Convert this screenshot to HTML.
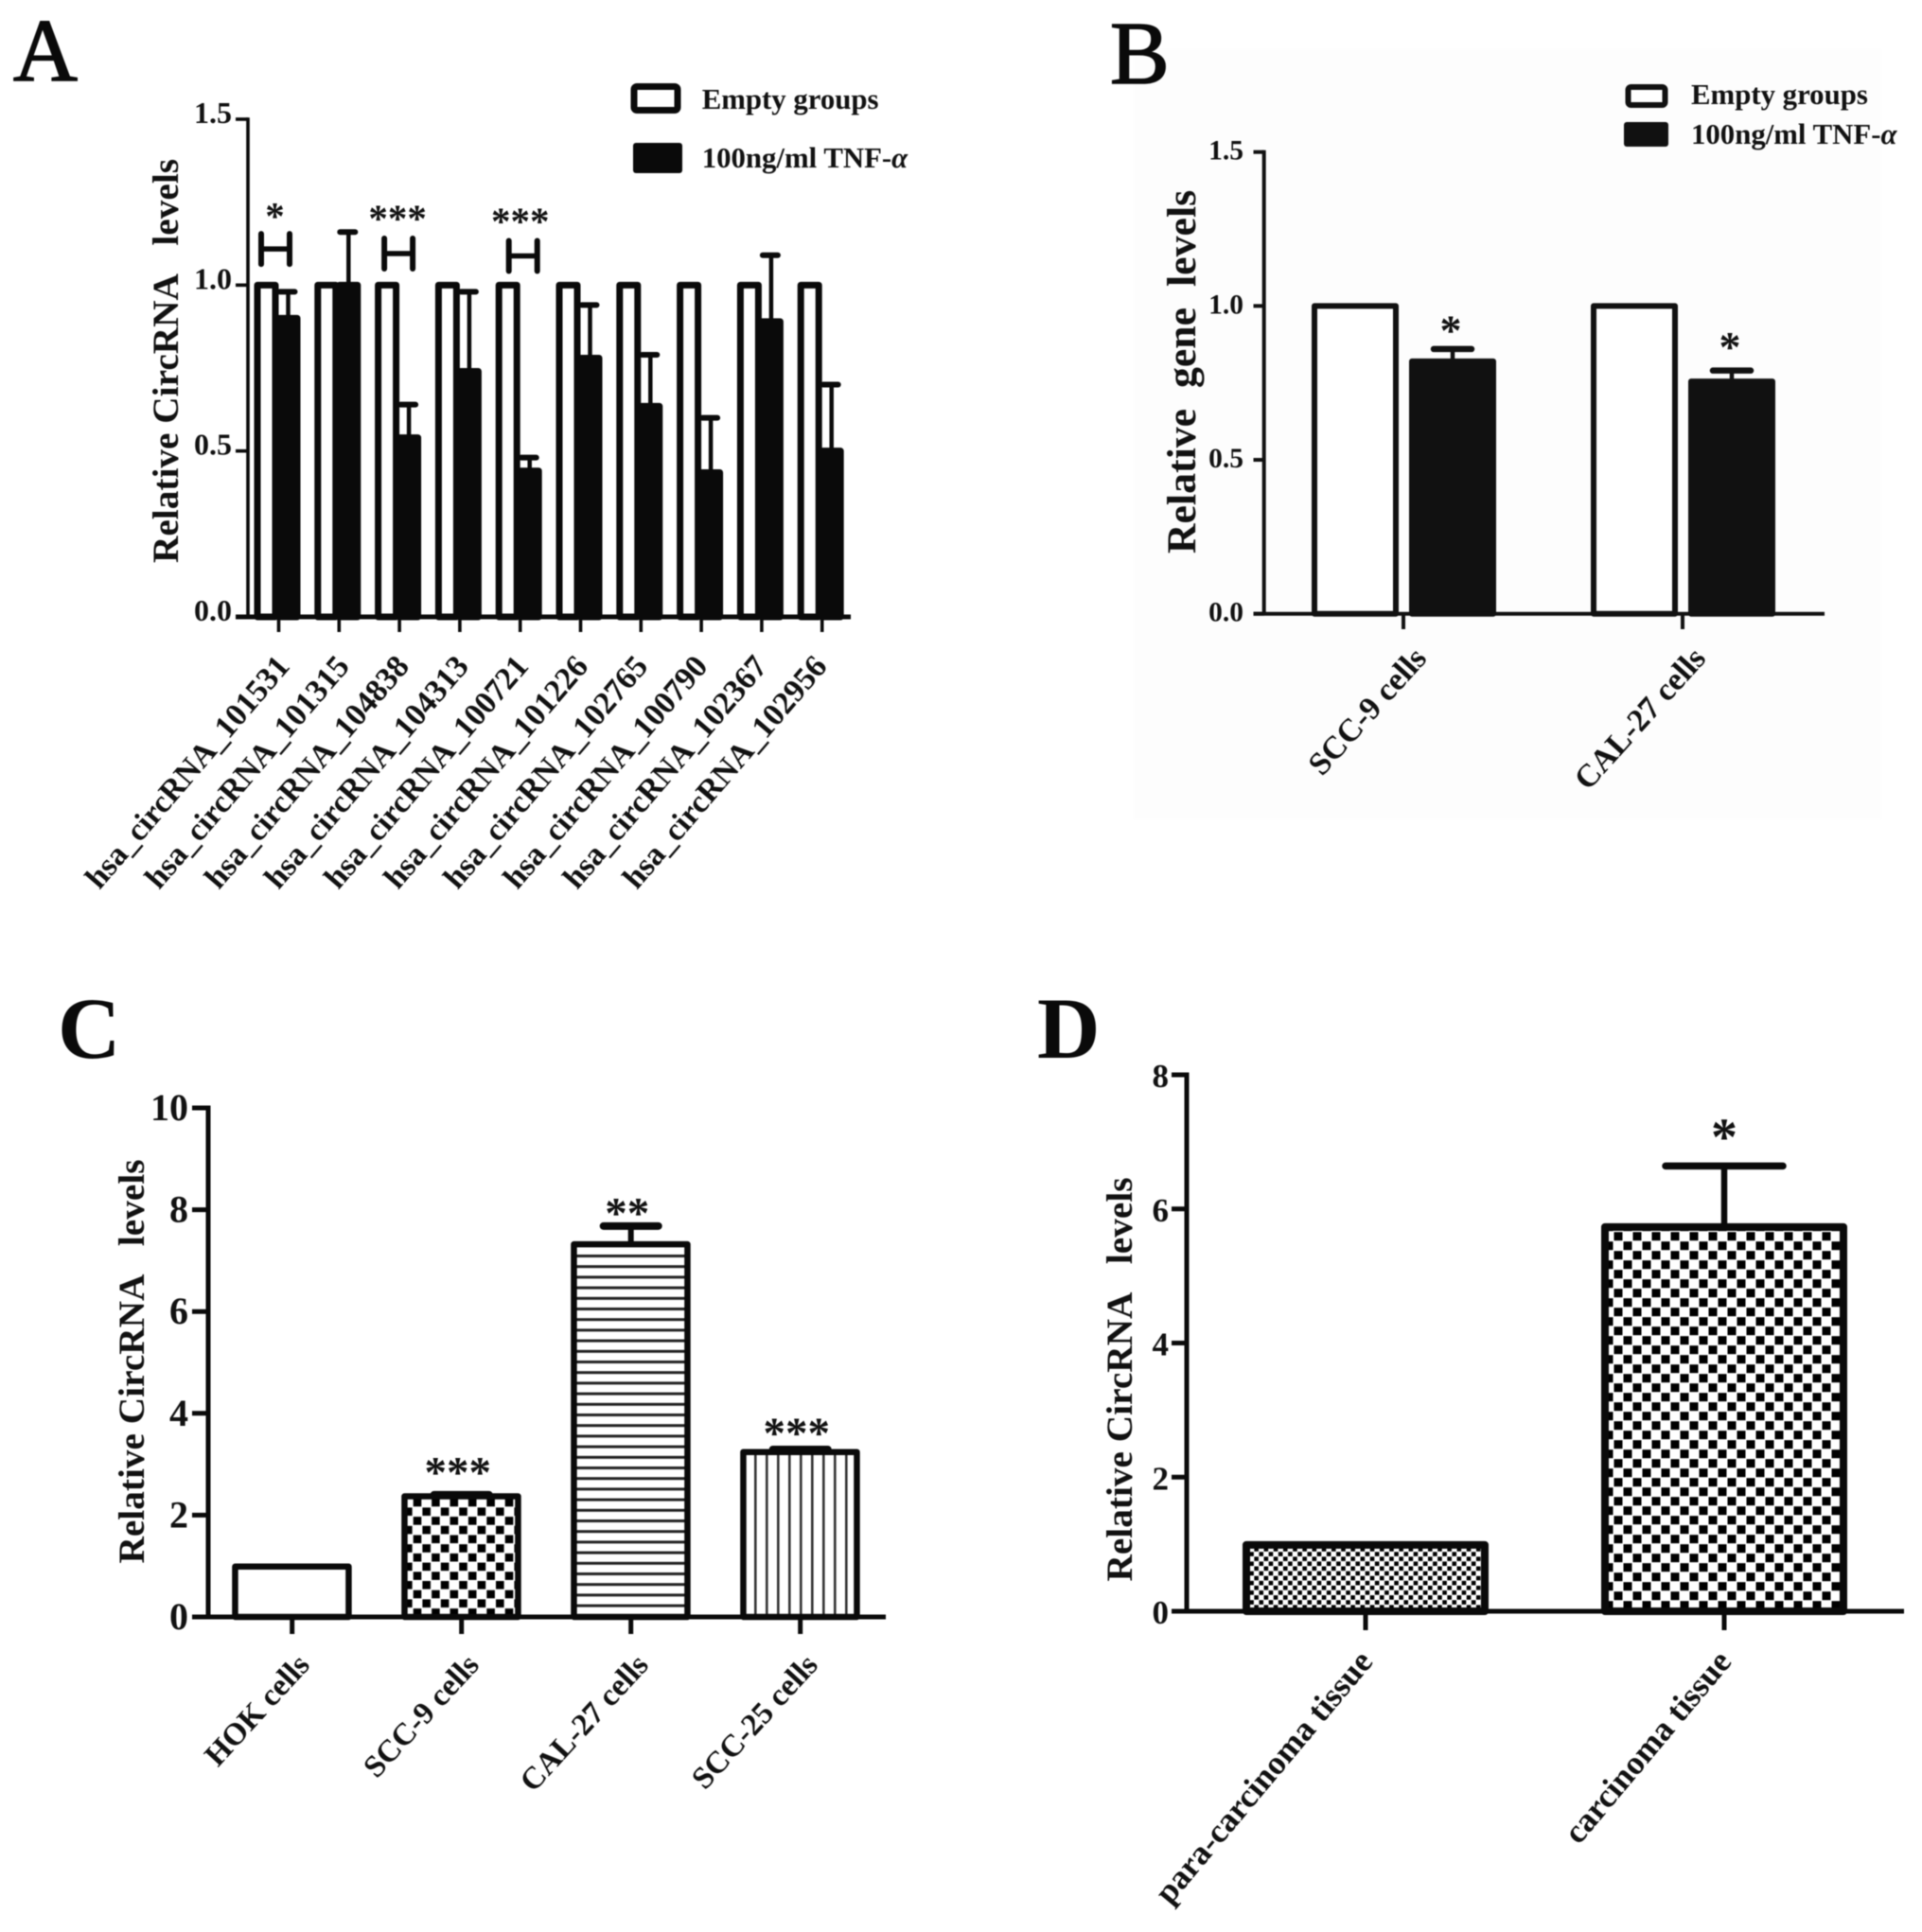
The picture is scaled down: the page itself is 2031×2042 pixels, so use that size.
<!DOCTYPE html>
<html lang="en">
<head>
<meta charset="utf-8">
<title>CircRNA and gene levels, panels A to D</title>
<style>
html,body{margin:0;padding:0;background:#fff;width:2031px;height:2042px;overflow:hidden}
svg{display:block;filter:blur(0.5px)}
text{font-family:"Liberation Serif",serif;font-weight:bold;fill:#111}
.letter{font-weight:normal;font-size:94px;fill:#0a0a0a}
.heavy{stroke:#0a0a0a;stroke-width:1.6px}
.boldletter{font-weight:bold;font-size:92px}
.leg{font-size:30.8px}
</style>
</head>
<body>
<svg id="figure" xmlns="http://www.w3.org/2000/svg" width="2031" height="2042" viewBox="0 0 2031 2042">
  <defs>
    <pattern id="check-large-c" x="445.85" y="1592.85" width="19.4" height="19.4" patternUnits="userSpaceOnUse">
      <rect width="19.4" height="19.4" fill="#fff"/>
      <rect x="0.55" y="0.55" width="8.6" height="8.6" fill="#000"/>
      <rect x="10.25" y="10.25" width="8.6" height="8.6" fill="#000"/>
    </pattern>
    <pattern id="check-large-d" x="1715" y="1311.7" width="20" height="20" patternUnits="userSpaceOnUse">
      <rect width="20" height="20" fill="#fff"/>
      <rect x="0.5" y="0.5" width="9" height="9" fill="#000"/>
      <rect x="10.5" y="10.5" width="9" height="9" fill="#000"/>
    </pattern>
    <pattern id="check-small-d" x="1320" y="1640" width="10.2" height="10.2" patternUnits="userSpaceOnUse">
      <rect width="10.2" height="10.2" fill="#fff"/>
      <rect x="0.25" y="0.25" width="4.6" height="4.6" fill="#000"/>
      <rect x="5.35" y="5.35" width="4.6" height="4.6" fill="#000"/>
    </pattern>
    <pattern id="hlines" x="0" y="1505.2" width="11.2" height="11.2" patternUnits="userSpaceOnUse">
      <rect width="11.2" height="11.2" fill="#fff"/>
      <rect width="11.2" height="3" fill="#222"/>
    </pattern>
    <pattern id="vlines" x="797" y="0" width="12" height="12" patternUnits="userSpaceOnUse">
      <rect width="12" height="12" fill="#fff"/>
      <rect width="2.6" height="12" fill="#333"/>
    </pattern>
  </defs>

  <rect x="1198" y="52" width="790" height="814" fill="#fdfdfd"/>

  <text class="letter heavy" x="14" y="85">A</text>
  <text class="letter heavy" x="1173" y="88">B</text>
  <text class="letter boldletter" x="61" y="1118">C</text>
  <text class="letter boldletter" x="1096" y="1118">D</text>

  <text transform="translate(188 381.5) rotate(-90)" text-anchor="middle" font-size="39.3">Relative CircRNA&#160;&#160;&#160;levels</text>
  <text transform="translate(1263 393) rotate(-90)" text-anchor="middle" font-size="43.8">Relative&#160;&#160;gene&#160;&#160;levels</text>
  <text transform="translate(152 1439) rotate(-90)" text-anchor="middle" font-size="39.3">Relative CircRNA&#160;&#160;&#160;levels</text>
  <text transform="translate(1196 1458) rotate(-90)" text-anchor="middle" font-size="39.3">Relative CircRNA&#160;&#160;&#160;levels</text>

  <g>
    <rect x="670" y="91.5" width="46" height="25" rx="3" fill="#fff" stroke="#0a0a0a" stroke-width="7"/>
    <text class="leg" x="741.7" y="115">Empty groups</text>
    <rect x="669" y="151" width="52" height="32" rx="3" fill="#0a0a0a"/>
    <text class="leg" x="741.7" y="177">100ng/ml TNF-<tspan font-style="italic">α</tspan></text>
  </g>
  <g>
    <rect x="1720.5" y="92" width="39" height="19" rx="3" fill="#fff" stroke="#111" stroke-width="6"/>
    <text class="leg" x="1787" y="110">Empty groups</text>
    <rect x="1716" y="129" width="47" height="26" rx="3" fill="#111"/>
    <text class="leg" x="1787" y="152">100ng/ml TNF-<tspan font-style="italic">α</tspan></text>
  </g>
</svg>

<script>
// Panel A data
const aCategories = ['hsa_circRNA_101531','hsa_circRNA_101315','hsa_circRNA_104838','hsa_circRNA_104313','hsa_circRNA_100721','hsa_circRNA_101226','hsa_circRNA_102765','hsa_circRNA_100790','hsa_circRNA_102367','hsa_circRNA_102956'];
const aEmpty = [1,1,1,1,1,1,1,1,1,1];
const aTreated = [0.90,1.00,0.54,0.74,0.44,0.78,0.635,0.435,0.89,0.50];
const aTreatedErrTop = [0.98,1.16,0.64,0.98,0.48,0.94,0.79,0.60,1.09,0.70];
const aTickLabels = ['0.0','0.5','1.0','1.5'];
const aSigLabels = ['*','','***','','***','','','','',''];
const aSigLevels = [1.224,0,1.217,0,1.209,0,0,0,0,0];
const aBracketLevels = [1.109,0,1.095,0,1.088,0,0,0,0,0];

// Panel B data
const bCategories = ['SCC-9 cells','CAL-27 cells'];
const bEmpty = [1,1];
const bTreated = [0.82,0.755];
const bTreatedErrTop = [0.86,0.79];
const bTickLabels = ['0.0','0.5','1.0','1.5'];
const bSigLabels = ['*','*'];
const bSigLevels = [0.94,0.886];

// Panel C data
const cCategories = ['HOK cells','SCC-9 cells','CAL-27 cells','SCC-25 cells'];
const cValues = [0.99,2.37,7.32,3.24];
const cErrTop = [0.99,2.40,7.68,3.29];
const cTickLabels = ['0','2','4','6','8','10'];
const cSigLabels = ['','***','**','***'];
const cSigLevels = [0,2.97,8.06,3.74];

// Panel D data
const dCategories = ['para-carcinoma tissue','carcinoma tissue'];
const dValues = [0.99,5.73];
const dErrTop = [0.99,6.64];
const dTickLabels = ['0','2','4','6','8'];
const dSigLabels = ['','*'];
const dSigLevels = [0,7.18];

const svgNS = 'http://www.w3.org/2000/svg';
const figure = document.getElementById('figure');

function add(tag, attrs, parent, name) {
  const node = document.createElementNS(svgNS, tag);
  for (const k in attrs) node.setAttribute(k, attrs[k]);
  
  
  parent.appendChild(node);
  return node;
}
function line(parent, x1, y1, x2, y2, w, cap, color, name) {
  return add('line', {x1:x1, y1:y1, x2:x2, y2:y2, stroke:color, 'stroke-width':w, 'stroke-linecap':cap}, parent, name);
}
function bar(parent, left, right, yTop, yBase, fill, sw, color, name) {
  return add('path', {
    d:'M'+(left+sw/2)+' '+yBase+'V'+yTop+'H'+(right-sw/2)+'V'+yBase+'Z',
    fill:fill, stroke:color, 'stroke-width':sw, 'stroke-linejoin':'round'
  }, parent, name);
}
function label(parent, str, x, y, size, anchor, name) {
  const t = add('text', {x:x, y:y, 'font-size':size, 'text-anchor':anchor}, parent, name);
  t.textContent = str;
  return t;
}

function axes(p) {
  const g = add('g', {}, figure, p.id + '-axes');
  p.scaleY = function (v) { return p.y0 - (v / p.maxV) * (p.y0 - p.yTop); };
  p.scaleX = function (i) { return p.x0 + i * p.step; };
  line(g, p.axisX, p.y0, p.axisX, p.yTop - p.yAxisW / 2, p.yAxisW, 'butt', p.color, p.id + '-y-axis');
  p.tickLabels.forEach(function (s) {
    const v = parseFloat(s);
    const y = p.scaleY(v);
    line(g, p.tickLeft, y, p.axisX, y, p.tickW, 'butt', p.color, p.id + '-y-tick');
    label(g, s, p.labelRight, y + p.labelDy, p.labelSize, 'end', p.id + '-y-tick-label');
  });
  p.categories.forEach(function (c, i) {
    const x = p.scaleX(i);
    line(g, x, p.y0, x, p.tickBottom, p.tickW, 'butt', p.color, p.id + '-x-tick');
    const lx = p.x0 + i * (p.catStep || p.step) + p.catDx, ly = p.catY;
    const t = label(g, c, lx, ly, p.catSize, 'end', p.id + '-x-tick-label');
    t.setAttribute('transform', 'rotate(' + (-p.catAngle) + ' ' + lx + ' ' + ly + ')');
  });
}
function xAxisLine(p) {
  line(figure, p.axisLeft, p.y0, p.axisRight, p.y0, p.xAxisW, 'butt', p.color, p.id + '-x-axis');
}
function errorBar(g, p, cx, capCx, value, top) {
  const yTop = p.scaleY(top), yBar = p.scaleY(value);
  line(g, cx, yBar, cx, yTop, p.stemW, 'butt', p.color, p.id + '-error-stem');
  line(g, capCx - p.capHalf, yTop, capCx + p.capHalf, yTop, p.capW, 'round', p.color, p.id + '-error-cap');
}
function stars(g, p, i, dx, str, level, size) {
  if (!str) return;
  label(g, str, p.scaleX(i) + dx, p.scaleY(level) + 0.473 * size, size, 'middle', p.id + '-significance');
}

/* ---------- Panel A ---------- */
const panelA = {id:'panel-a', categories:aCategories, tickLabels:aTickLabels, maxV:1.5,
  x0:294.5, step:63.8, catStep:63.1, y0:652, yTop:126, axisX:262, axisLeft:249, axisRight:899, tickLeft:249, tickBottom:668,
  yAxisW:3.6, xAxisW:5, tickW:3.6, stemW:4.5, capW:6, capHalf:8, color:'#0a0a0a',
  labelRight:245, labelDy:4, labelSize:32, catDx:13, catY:705, catSize:33.8, catAngle:49.4};
axes(panelA);
const groupA = add('g', {}, figure, 'panel-a-bars');
const aSigDx = [-4,0,-2,0,0,0,0,0,0,0];
const aBracketDx = [-3.5,0,-1,0,3,0,0,0,0,0];
aCategories.forEach(function (c, i) {
  const t = panelA.scaleX(i);
  errorBar(groupA, panelA, t + 10, t + 9, aTreated[i], aTreatedErrTop[i]);
  bar(groupA, t - 26, t, panelA.scaleY(aEmpty[i]), panelA.y0, '#fff', 7, '#0a0a0a', 'panel-a-bar-empty');
  bar(groupA, t - 3, t + 23, panelA.scaleY(aTreated[i]), panelA.y0, '#0a0a0a', 7, '#0a0a0a', 'panel-a-bar-tnf');
  if (aSigLabels[i]) {
    stars(groupA, panelA, i, aSigDx[i], aSigLabels[i], aSigLevels[i], 41);
    const bx = t + aBracketDx[i], by = panelA.scaleY(aBracketLevels[i]);
    line(groupA, bx - 15, by, bx + 15, by, 5.5, 'butt', '#0a0a0a', 'panel-a-bracket-bar');
    line(groupA, bx - 15, by - 16, bx - 15, by + 16, 6, 'round', '#0a0a0a', 'panel-a-bracket-left');
    line(groupA, bx + 15, by - 16, bx + 15, by + 16, 6, 'round', '#0a0a0a', 'panel-a-bracket-right');
  }
});
xAxisLine(panelA);

/* ---------- Panel B ---------- */
const panelB = {id:'panel-b', categories:bCategories, tickLabels:bTickLabels, maxV:1.5,
  x0:1483, step:295, y0:648.7, yTop:160.7, axisX:1335.7, axisLeft:1324.5, axisRight:1928, tickLeft:1324.5, tickBottom:665,
  yAxisW:4, xAxisW:4, tickW:4, stemW:4.5, capW:6.5, capHalf:20, color:'#111',
  labelRight:1314, labelDy:8, labelSize:29.5, catDx:26, catY:697, catSize:34, catAngle:48};
axes(panelB);
const groupB = add('g', {}, figure, 'panel-b-bars');
bCategories.forEach(function (c, i) {
  const t = panelB.scaleX(i);
  errorBar(groupB, panelB, t + 52, t + 52, bTreated[i], bTreatedErrTop[i]);
  bar(groupB, t - 97, t - 5, panelB.scaleY(bEmpty[i]), panelB.y0, '#fff', 6, '#111', 'panel-b-bar-empty');
  bar(groupB, t + 6, t + 98, panelB.scaleY(bTreated[i]), panelB.y0, '#111', 6, '#111', 'panel-b-bar-tnf');
  stars(groupB, panelB, i, 50, bSigLabels[i], bSigLevels[i], 46);
});
xAxisLine(panelB);

/* ---------- Panel C ---------- */
const cFills = ['#fff','url(#check-large-c)','url(#hlines)','url(#vlines)'];
const panelC = {id:'panel-c', categories:cCategories, tickLabels:cTickLabels, maxV:10,
  x0:308.7, step:179, y0:1709, yTop:1171, axisX:220, axisLeft:203, axisRight:936, tickLeft:203, tickBottom:1727,
  yAxisW:5, xAxisW:5, tickW:5, stemW:6, capW:8, capHalf:29, color:'#0a0a0a',
  labelRight:199, labelDy:13, labelSize:40, catDx:20, catY:1761, catSize:33, catAngle:47.5};
axes(panelC);
const groupC = add('g', {}, figure, 'panel-c-bars');
cCategories.forEach(function (c, i) {
  const t = panelC.scaleX(i);
  if (cErrTop[i] > cValues[i]) errorBar(groupC, panelC, t, t, cValues[i], cErrTop[i]);
  bar(groupC, t - 63.5, t + 63, panelC.scaleY(cValues[i]), panelC.y0, cFills[i], 6.5, '#0a0a0a', 'panel-c-bar');
  stars(groupC, panelC, i, -4, cSigLabels[i], cSigLevels[i], 47);
});
xAxisLine(panelC);

/* ---------- Panel D ---------- */
const dFills = ['url(#check-small-d)','url(#check-large-d)'];
const panelD = {id:'panel-d', categories:dCategories, tickLabels:dTickLabels, maxV:8,
  x0:1443, step:379, y0:1703, yTop:1136, axisX:1254, axisLeft:1238, axisRight:2012, tickLeft:1238, tickBottom:1723,
  yAxisW:5, xAxisW:5, tickW:5, stemW:6.5, capW:7.5, capHalf:62, color:'#0a0a0a',
  labelRight:1235, labelDy:13, labelSize:35, catDx:9, catY:1757, catSize:35.5, catAngle:50};
axes(panelD);
const groupD = add('g', {}, figure, 'panel-d-bars');
dCategories.forEach(function (c, i) {
  const t = panelD.scaleX(i);
  if (dErrTop[i] > dValues[i]) errorBar(groupD, panelD, t, t, dValues[i], dErrTop[i]);
  bar(groupD, t - 130, t + 130, panelD.scaleY(dValues[i]), panelD.y0, dFills[i], 8, '#0a0a0a', 'panel-d-bar');
  stars(groupD, panelD, i, 0, dSigLabels[i], dSigLevels[i], 56);
});
xAxisLine(panelD);
</script>
</body>
</html>
